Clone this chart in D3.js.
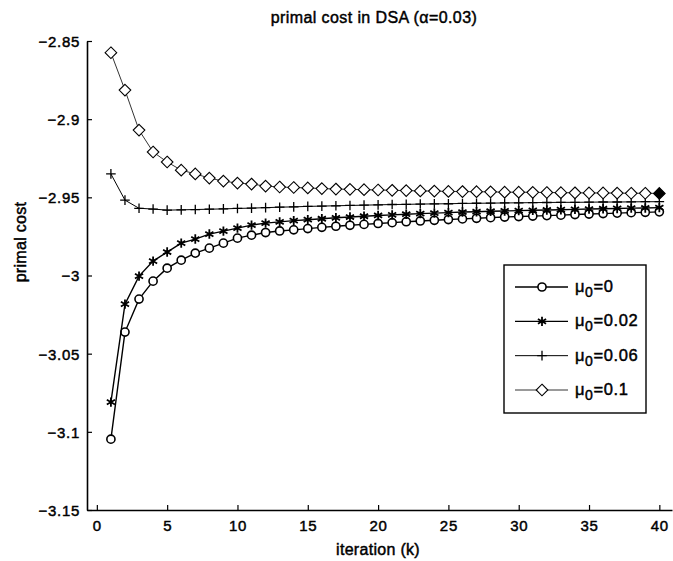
<!DOCTYPE html>
<html>
<head>
<meta charset="utf-8">
<script src="https://cdn.jsdelivr.net/npm/d3@7"></script>
<style>
  body { margin: 0; background: #fff; }
  svg { display: block; }
  text { font-family: "Liberation Sans", Arial, Helvetica, sans-serif; fill: #000; stroke: #000; stroke-width: 0.45px; }
</style>
</head>
<body>
<div id="chart"></div>
<script>
// iterations 1..40
const iterations = d3.range(1, 41);

// primal cost per iteration
const mu0_0 = [
  -3.1047, -3.0362, -3.0151, -3.0036, -2.9953, -2.9902, -2.9857, -2.9825, -2.9793, -2.9761,
  -2.9742, -2.9725, -2.9715, -2.9708, -2.9700, -2.9692, -2.9685, -2.9679, -2.9673, -2.9667,
  -2.9662, -2.9656, -2.9651, -2.9647, -2.9642, -2.9638, -2.9634, -2.9630, -2.9626, -2.9623,
  -2.9620, -2.9617, -2.9614, -2.9610, -2.9607, -2.9604, -2.9601, -2.9598, -2.9596, -2.9593
];
const mu0_002 = [
  -3.0810, -3.0183, -3.0004, -2.9908, -2.9850, -2.9793, -2.9767, -2.9735, -2.9716, -2.9697,
  -2.9678, -2.9665, -2.9657, -2.9649, -2.9643, -2.9637, -2.9631, -2.9626, -2.9621, -2.9616,
  -2.9612, -2.9608, -2.9604, -2.9601, -2.9598, -2.9594, -2.9592, -2.9589, -2.9587, -2.9585,
  -2.9583, -2.9581, -2.9579, -2.9577, -2.9575, -2.9573, -2.9571, -2.9569, -2.9568, -2.9566
];
const mu0_006 = [
  -2.9350, -2.9518, -2.9570, -2.9575, -2.9582, -2.9580, -2.9578, -2.9576, -2.9574, -2.9571,
  -2.9569, -2.9566, -2.9563, -2.9561, -2.9558, -2.9556, -2.9554, -2.9552, -2.9550, -2.9548,
  -2.9546, -2.9545, -2.9543, -2.9542, -2.9541, -2.9539, -2.9538, -2.9537, -2.9536, -2.9535,
  -2.9534, -2.9533, -2.9532, -2.9532, -2.9531, -2.9530, -2.9530, -2.9529, -2.9528, -2.9528
];
const mu0_01 = [
  -2.8575, -2.8814, -2.9070, -2.9210, -2.9274, -2.9326, -2.9350, -2.9377, -2.9396, -2.9409,
  -2.9415, -2.9428, -2.9434, -2.9437, -2.9440, -2.9444, -2.9447, -2.9449, -2.9451, -2.9453,
  -2.9455, -2.9457, -2.9459, -2.9460, -2.9462, -2.9463, -2.9464, -2.9465, -2.9467, -2.9467,
  -2.9468, -2.9469, -2.9470, -2.9471, -2.9472, -2.9472, -2.9473, -2.9474, -2.9474, -2.9475
];

const seriesNames = ['0', '0.02', '0.06', '0.1'];
const xTicks = [0, 5, 10, 15, 20, 25, 30, 35, 40];
const yTicks = [-3.15, -3.1, -3.05, -3, -2.95, -2.9, -2.85];

const width = 673;
const height = 561;

const svg = d3.select('#chart').append('svg')
  .attr('width', width)
  .attr('height', height);

const x = d3.scaleLinear().domain([-0.7, 40.9]).range([87, 672]);
const y = d3.scaleLinear().domain([-3.15, -2.85]).range([510, 41]);

// symbols, with hand paths if this d3 build lacks the stroke symbols
const fallback = {
  plus: { draw(c, s) { const r = Math.sqrt(s) * 0.85; c.moveTo(-r, 0); c.lineTo(r, 0); c.moveTo(0, -r); c.lineTo(0, r); } },
  asterisk: { draw(c, s) { const r = Math.sqrt(s) * 0.6; for (let i = 0; i < 4; i++) { const a = i * Math.PI / 4; c.moveTo(-r * Math.cos(a), -r * Math.sin(a)); c.lineTo(r * Math.cos(a), r * Math.sin(a)); } } },
  diamond: { draw(c, s) { const r = Math.sqrt(s) * 0.62625; c.moveTo(0, -r); c.lineTo(r, 0); c.lineTo(0, r); c.lineTo(-r, 0); c.closePath(); } }
};

const series = [
  { name: seriesNames[0], values: mu0_0,   type: d3.symbolCircle, size: 52, lw: 1.4, mw: 1.6 },
  { name: seriesNames[1], values: mu0_002, type: d3.symbolAsterisk || fallback.asterisk, size: 62, lw: 1.4, mw: 1.8 },
  { name: seriesNames[2], values: mu0_006, type: d3.symbolPlus || fallback.plus, size: 32, lw: 1.0, mw: 1.3 },
  { name: seriesNames[3], values: mu0_01,  type: d3.symbolDiamond2 || fallback.diamond, size: 86, lw: 0.8, mw: 1.1 }
];

// axes
const yAxis = d3.axisLeft(y).tickValues(yTicks).tickSizeInner(-5).tickSizeOuter(0).tickPadding(7)
  .tickFormat(d => d3.format('')(d).replace('-', '\u2212'));
const xAxis = d3.axisBottom(x).tickValues(xTicks).tickSizeInner(-5).tickSizeOuter(0).tickPadding(10);

const gy = svg.append('g').attr('transform', 'translate(87,0)').call(yAxis);
const gx = svg.append('g').attr('transform', 'translate(0,510)').call(xAxis);

[gy, gx].forEach(g => {
  g.select('.domain').attr('stroke', '#000').attr('stroke-width', 1.6);
  g.selectAll('.tick line').attr('stroke', '#000').attr('stroke-width', 1.2);
  g.selectAll('.tick text')
    .style('font-size', '15px')
    .style('letter-spacing', '0.7px')
    .attr('fill', '#000');
});
gy.selectAll('.tick text').attr('dy', '0.36em');

// lines and markers
const line = d3.line().x((d, i) => x(iterations[i])).y(d => y(d));

series.forEach(s => {
  svg.append('path')
    .datum(s.values)
    .attr('d', line)
    .attr('fill', 'none')
    .attr('stroke', '#000')
    .attr('stroke-width', s.lw);

  svg.append('g').selectAll('path')
    .data(s.values)
    .join('path')
    .attr('transform', (d, i) => `translate(${x(iterations[i])},${y(d)})`)
    .attr('d', d3.symbol(s.type, s.size))
    .attr('fill', (d, i) => (s.name === '0.1' && i === s.values.length - 1) ? '#000' : '#fff')
    .attr('stroke', '#000')
    .attr('stroke-width', s.mw);
});

// title and axis labels
svg.append('text')
  .attr('x', 374).attr('y', 23)
  .attr('text-anchor', 'middle')
  .style('font-size', '16px')
  .style('letter-spacing', '0.4px')
  .text('primal cost in DSA (\u03b1=0.03)');

svg.append('text')
  .attr('x', 378).attr('y', 555)
  .attr('text-anchor', 'middle')
  .style('font-size', '16px')
  .style('letter-spacing', '0.3px')
  .text('iteration (k)');

svg.append('text')
  .attr('transform', 'translate(26,242) rotate(-90)')
  .attr('text-anchor', 'middle')
  .style('font-size', '16px')
  .style('letter-spacing', '0.3px')
  .text('primal cost');

// legend
const legend = svg.append('g');
legend.append('rect')
  .attr('x', 504).attr('y', 265)
  .attr('width', 142).attr('height', 148)
  .attr('fill', '#fff')
  .attr('stroke', '#000')
  .attr('stroke-width', 1.4);

const rowY = d3.scalePoint().domain(seriesNames).range([287, 390]);

series.forEach(s => {
  const ly = rowY(s.name);
  legend.append('line')
    .attr('x1', 515).attr('x2', 568)
    .attr('y1', ly).attr('y2', ly)
    .attr('stroke', '#000')
    .attr('stroke-width', s.lw);
  legend.append('path')
    .attr('transform', `translate(542,${ly})`)
    .attr('d', d3.symbol(s.type, s.size))
    .attr('fill', '#fff')
    .attr('stroke', '#000')
    .attr('stroke-width', s.mw);
  const t = legend.append('text')
    .attr('x', 575).attr('y', ly + 5)
    .style('font-size', '16.5px')
    .style('letter-spacing', '0.6px');
  t.append('tspan').text('\u03bc');
  t.append('tspan').attr('dy', 5).style('font-size', '14px').text('0');
  t.append('tspan').attr('dy', -5).text('=' + s.name);
});
</script>
</body>
</html>
